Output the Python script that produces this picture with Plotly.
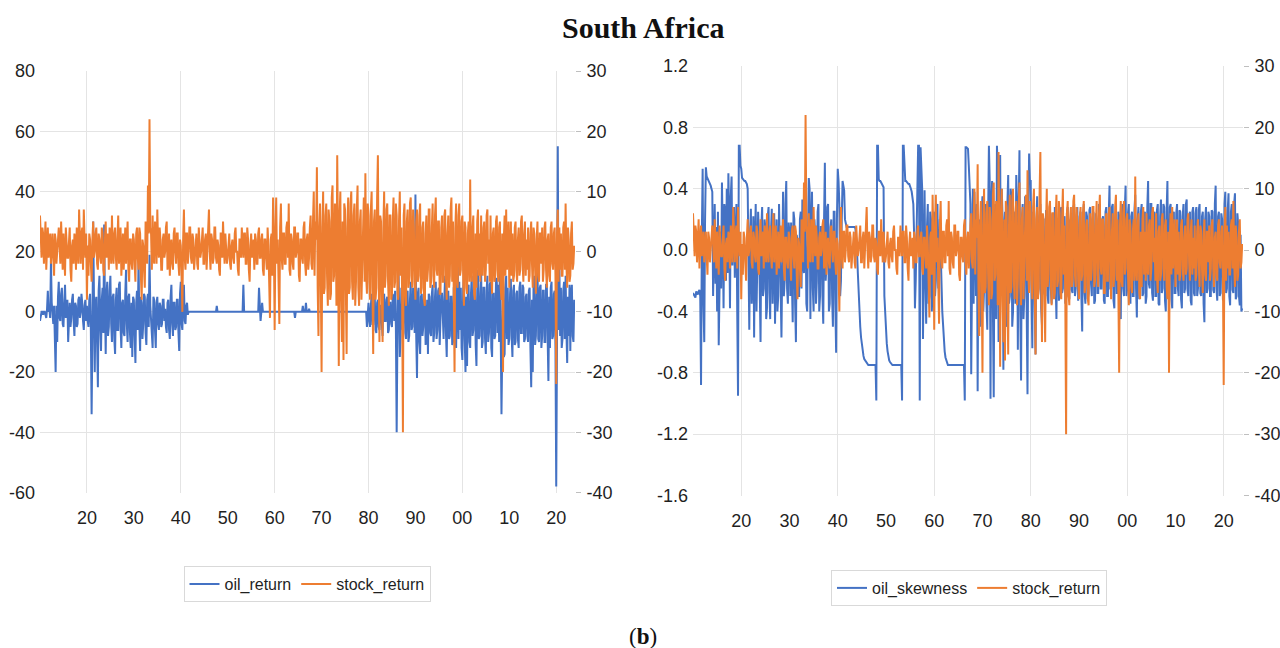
import plotly.graph_objects as go

# ---------------- data (6 readings per year, 1910.0 .. 2023.83) ----------------
start_year = 1910
points_per_year = 6

stock_return = [
    # 1910s
    6, 2, -1, 4, 3, -2, 1, 5, -3, 2, 4, -1, 2, 3, -2, 1, 3, -1, -4, 3, 2, -2, 0, 3, 4, 1, -2, 5, 1, -3,
    3, 0, -4, 4, 2, -1, -1, 3, 4, -3, -5, 1, 2, -2, 3, 2, -3, 4, 1, -2, 7, 2, -2, 3, 4, -3, 7, 2, -1, 3,
    # 1920s
    -8, 1, -4, 3, 2, -2, -5, 2, 5, -1, 0, 3, 4, -2, -3, 3, 2, -1, -2, 4, 3, -3, -4, 2, 5, -1, 0, 3, -3, 4,
    2, -2, 6, 0, -2, 3, 4, -1, -3, 2, 6, -2, 1, 4, -4, 2, 3, -3, 2, 4, -2, 1, 5, -3, -5, 2, 2, -2, -3, 3,
    # 1930s
    2, -2, -5, 3, 4, -1, -3, 4, 3, -4, -8, 2, 1, -3, -6, 5, 4, -2, 11, 3, 22, 4, 3, -3, 6, -1, -2, 5, 4, -2,
    7, 1, -1, 4, 2, -3, -3, 2, 3, -1, 0, 4, 5, -3, -2, 3, -4, 1, 2, -2, -3, 3, 4, 0, -2, 3, 3, -2, -4, 2,
    # 1940s
    1, -3, -10, 2, 7, -1, -3, 3, 3, -2, 0, 4, 4, -1, -2, 3, 2, -3, -1, 2, 3, -2, -3, 4, 2, -1, 0, 3, 4, -2,
    -2, 2, 3, -3, 1, 4, 7, 0, -3, 3, 2, -2, -1, 4, 4, -1, -2, 2, 1, -3, -4, 3, 3, -1, 5, 1, -2, 3, 0, -2,
    # 1950s
    -1, 2, 3, -2, -3, 1, 2, -1, -2, 3, 4, 0, 0, -3, -4, 2, 2, -1, 4, 1, -1, 3, 3, -2, -2, 4, 2, -3, -5, 1,
    3, -1, 0, 2, -3, 3, 2, -2, -2, 3, 4, -1, -1, 2, 3, -3, -4, 2, 2, -1, -3, 4, 1, -5, -11, 2, 3, -4, 9, 1,
    # 1960s
    -13, 3, 9, -2, 2, -5, -12, 4, 8, -1, -3, 3, 3, -2, -2, 4, 5, -1, 8, -3, -4, 3, 2, -2, -3, 4, 4, -1, 0, 3,
    3, -4, -5, 2, 2, -1, -2, 4, 5, -2, -4, 2, 3, -3, -1, 4, 6, -2, -3, 5, 10, -4, 5, 2, 14, -6, -14, 4, 8, -5,
    # 1970s
    -20, 4, 10, -7, -6, 6, 8, -4, -9, 7, 5, -8, -7, 9, 11, -5, -4, 8, 6, -9, 16, 2, -19, 6, 10, -8, -15, 5, -18, 8,
    7, -6, -17, 4, 9, -7, -6, 8, 10, -5, -8, 6, 8, -9, -5, 7, 11, -6, -9, 5, 7, -8, -3, 6, 9, -5, 13, -4, -7, 8,
    # 1980s
    6, -5, -8, 7, 10, -6, -17, 5, 7, -8, -6, 9, 16, -4, -15, 6, 5, -7, -15, 4, 10, -6, -4, 7, 8, -5, -9, 6, 6, -8,
    -7, 5, 9, -6, -5, 8, 6, -7, -8, 5, 10, -4, 4, -8, -30, 6, 8, -7, -9, 5, 7, -6, -5, 8, 9, -4, -6, 7, 4, -5,
    # 1990s
    -8, 5, 7, -5, -4, 6, 8, -7, -6, 4, 5, -8, -9, 3, 6, -5, -3, 7, 7, -6, -5, 4, 8, -4, -6, 6, 9, -3, -4, 5,
    5, -7, -7, 4, 6, -5, -5, 6, 7, -4, -8, 3, 6, -6, -4, 7, 9, -5, 5, -7, -20, 4, 8, -5, -6, 6, 8, -4, -3, 5,
    # 2000s
    6, -4, -9, 5, 4, -6, -7, 3, 5, -5, 12, -3, -5, 4, 6, -7, -8, 3, -6, 5, 7, -4, 3, -5, 6, -3, -4, 4, 5, -5,
    -3, 6, 7, -2, 2, -5, 6, -4, -7, 3, 4, -5, -4, 5, 6, -3, -5, 4, 5, -6, -8, 3, -20, 2, 6, -4, 7, -3, 2, 5,
    # 2010s
    -6, 3, 5, -4, 3, -5, -4, 4, 5, -3, -5, 2, 4, -4, -3, 5, 6, -2, -5, 3, 5, -4, 2, -3, 4, -5, -4, 3, 5, -2,
    -6, 4, 3, -3, -7, 2, 5, -4, -5, 3, 3, -2, 4, -5, -3, 4, 5, -3, -6, 2, 3, -4, -5, 4, 5, -2, -3, 3, 4, -4,
    # 2020s
    -22, 3, 7, -5, 4, -3, 3, -4, -4, 4, 5, -3, 8, -2, -6, 4, 2, -5, -4, 3, 5, -3, -2, 1,
]

oil_return = [
    # 1910s
    -3, -1, 0, 0, -1, 0, 0, -1, -2, 1, 7, 0, 1, -2, 17, 3, 0, -4, 2, -6, -20, 2, -10, 5, 10, -2, -3, 6, 8, -4,
    -5, 3, 9, -2, 1, 4, -10, 2, 3, -5, -2, 4, 6, -3, -8, 3, 2, -5, -4, 4, 5, -2, 0, 6, 3, -3, -6, 2, 4, -3,
    # 1920s
    2, -3, -5, 4, 6, -6, -34, -8, 30, 5, -20, 3, 5, -10, -25, 7, 12, -5, -13, 4, 8, -7, 29, 3, -14, 6, 10, -8, -5, 7,
    12, -4, -10, 5, 6, -9, -14, 4, 8, -6, -6, 9, 10, -5, -12, 3, 4, -7, -8, 6, 14, -4, -10, 5, 6, -7, -12, 3, -15, 5,
    # 1930s
    4, -8, -17, 3, 7, -6, 18, -4, -13, 5, 3, -9, -4, 6, 5, -7, -11, 4, 6, -5, 19, 2, -3, -8, -12, 5, 4, -6, -12, 3,
    5, -4, -6, 3, 2, -5, -4, 4, 4, -3, 1, -5, -7, 3, 4, -6, -9, 5, 9, -4, -8, 3, 3, -6, -5, 4, 4, -7, -13, 6,
    # 1940s
    10, -4, -6, 5, 9, -3, -4, 2, 3, -1, 0, 0, 0, 0, 0, 0, 0, 0, 0, 0, 0, 0, 0, 0, 0, 0, 0, 0, 0, 0,
    0, 0, 0, 0, 0, 0, 0, 0, 0, 0, 0, 0, 0, 0, 0, 0, 2, 0, 0, 0, 0, 0, 0, 0, 0, 0, 0, 0, 0, 0,
    # 1950s
    0, 0, 0, 0, 0, 0, 0, 0, 0, 0, 0, 0, 0, 0, 0, 0, 0, 0, 0, 0, 9, 0, 0, 0, 0, 0, 0, 0, 0, 0,
    0, 0, 0, 0, 0, 0, 0, 0, 0, 0, 8, 0, -3, 0, 3, 0, 0, 0, 0, 0, 0, 0, 0, 0, 0, 0, 0, 0, 0, 0,
    # 1960s
    0, 0, 0, 0, 0, 0, 0, 0, 0, 0, 0, 0, 0, 0, 0, 0, 0, 0, 0, 0, 0, 0, 0, 0, 0, 0, -2, 0, 0, 0,
    0, 0, 0, 0, 0, 0, 2, 0, 0, 0, 3, 0, 0, 0, 1, 0, 0, 0, 0, 0, 0, 0, 0, 0, 0, 0, 0, 0, 0, 0,
    # 1970s
    0, 0, 0, 0, 0, 0, 0, 0, 0, 0, 0, 0, 0, 0, 0, 0, 0, 0, 0, 0, 0, 0, 0, 0, 0, 0, 0, 0, 0, 0,
    0, 0, 0, 0, 0, 0, 0, 0, 0, 0, 0, 0, 0, 0, 0, 0, 0, 0, 0, 0, 0, 0, 0, 0, 0, 0, 0, 0, -5, 2,
    # 1980s
    3, -3, -5, 2, 6, -4, -4, 5, 5, -6, -7, 3, 4, -5, -6, 2, 2, -4, -8, 5, 6, -3, -3, 4, 5, -7, -6, 3, 3, -4,
    -5, 6, 4, -3, 7, -5, -40, -6, 21, 4, -15, -8, 8, -5, -6, 9, 5, -7, -9, 6, 7, -10, -8, 4, 10, -6, -5, 8, 6, -7,
    # 1990s
    39, -8, -22, 6, 8, -10, -14, 5, 6, -8, -5, 7, 7, -11, -9, 4, -14, 6, 5, -7, -8, 6, 9, -10, -7, 5, 10, -9, -6, 7,
    8, -11, -5, 6, 6, -8, -9, 5, 12, -7, -15, 6, 7, -9, -8, 5, 5, -11, -10, 8, 9, -6, -12, 4, 21, -9, 10, -6, 8, -12,
    # 2000s
    -16, 7, 12, -9, -20, 5, -18, 8, 9, -10, -12, 6, 12, -8, -6, 10, 9, -11, -18, 7, 14, -9, -8, 6, 14, -12, -10, 8, 8, -9,
    -14, 7, 12, -10, -7, 9, 10, -12, -15, 6, 6, -9, -8, 11, 11, -7, 9, -10, 18, -6, -34, -12, 10, -15, -14, 8, 12, -9, 8, -11,
    # 2010s
    -9, 6, 11, -8, -15, 7, 9, -11, -10, 6, 7, -9, -12, 8, 10, -7, -7, 9, 8, -10, -9, 5, 6, -8, -10, 7, 8, -12, -25, 4,
    -20, 9, 12, -11, -8, 6, 17, -9, -10, 8, 9, -12, -8, 7, 7, -10, -10, 9, 9, -8, -23, 5, -12, 8, 10, -9, -8, 6, 7, -11,
    # 2020s
    -58, -10, 55, -6, 16, -8, 8, -12, -9, 7, 10, -9, 12, -6, -17, 5, -8, 9, -13, 6, 9, -8, -10, 4,
]

oil_skewness = [
    # 1910s
    -0.28, -0.29, -0.30, -0.31, -0.27, -0.28, -0.29, -0.27, -0.26, -0.30, -0.88, 0.10, 0.53, -0.35, -0.60,
    0.20, 0.54, 0.48, 0.47, 0.46, 0.45, 0.44, 0.42, 0.40, 0.38, -0.30, 0.05, 0.30, -0.22, 0.15,
    -0.40, 0.25, -0.62, 0.05, 0.12, -0.25, 0.44, 0.10, -0.38, 0.30, 0.25, -0.20, 0.40, -0.15, 0.50,
    0.20, -0.38, 0.35, 0.48, -0.10, 0.15, 0.28, -0.18, 0.25, 0.30, -0.40, -0.95, 0.68, 0.68, 0.55,
    # 1920s
    0.53, 0.47, 0.46, 0.46, 0.45, 0.45, 0.44, 0.43, 0.40, -0.30, -0.52, 0.10, 0.27, -0.35, -0.20,
    0.22, -0.57, 0.05, 0.30, -0.40, -0.15, 0.25, 0.10, -0.35, -0.60, 0.15, 0.28, -0.30, -0.25, 0.20,
    0.15, -0.45, -0.38, 0.22, 0.28, -0.28, -0.45, 0.12, 0.27, -0.35, -0.10, 0.24, -0.48, 0.05, 0.20,
    -0.40, -0.30, 0.30, 0.10, -0.25, -0.57, 0.20, 0.38, -0.30, -0.20, 0.30, 0.45, -0.25, -0.35, 0.18,
    # 1930s
    0.10, -0.30, 0.18, -0.20, -0.47, 0.25, 0.20, -0.35, -0.60, 0.10, 0.05, -0.30, -0.30, 0.20, 0.25,
    -0.25, 0.33, -0.10, -0.15, 0.28, 0.20, -0.35, -0.40, 0.10, 0.47, 0.40, -0.45, 0.15, 0.38, -0.25,
    -0.40, 0.20, 0.10, -0.35, -0.20, 0.25, 0.30, -0.40, -0.30, 0.15, 0.15, -0.30, -0.48, 0.20, 0.57,
    -0.20, -0.10, 0.28, 0.30, -0.40, -0.35, 0.15, 0.20, -0.30, -0.50, 0.25, 0.25, -0.35, -0.67, 0.20,
    # 1940s
    0.53, 0.45, 0.30, -0.30, -0.20, 0.20, 0.45, 0.42, 0.39, 0.20, 0.16, 0.15, 0.15, 0.15, 0.15,
    0.15, 0.15, 0.15, 0.15, 0.15, 0.15, 0.15, 0.14, 0.08, 0.00, -0.15, -0.30, -0.41, -0.50, -0.57,
    -0.62, -0.66, -0.69, -0.71, -0.72, -0.73, -0.74, -0.74, -0.75, -0.75, -0.75, -0.75, -0.75, -0.75, -0.75,
    -0.75, -0.75, -0.75, -0.98, 0.68, 0.68, 0.46, 0.45, 0.45, 0.44, 0.43, 0.42, 0.41, -0.30, -0.45,
    # 1950s
    -0.55, -0.61, -0.66, -0.70, -0.72, -0.73, -0.74, -0.75, -0.75, -0.75, -0.75, -0.75, -0.75, -0.75, -0.75,
    -0.75, -0.75, -0.75, -0.75, -0.75, -0.98, 0.68, 0.68, 0.47, 0.45, 0.45, 0.44, 0.44, 0.43, 0.43,
    0.42, 0.40, 0.38, 0.35, 0.30, 0.10, -0.38, -0.20, 0.20, 0.45, 0.68, 0.68, -0.98, 0.67, 0.45,
    0.40, -0.58, 0.10, 0.39, -0.20, -0.48, 0.15, 0.30, -0.35, -0.30, 0.25, 0.20, -0.40, -0.25, 0.20,
    # 1960s
    0.25, -0.30, -0.20, 0.28, 0.30, -0.25, -0.15, 0.20, 0.05, -0.20, -0.40, -0.52, -0.60, -0.66, -0.70,
    -0.72, -0.74, -0.75, -0.75, -0.75, -0.75, -0.75, -0.75, -0.75, -0.75, -0.75, -0.75, -0.75, -0.75, -0.75,
    -0.75, -0.75, -0.75, -0.75, -0.75, -0.75, -0.75, -0.75, -0.98, 0.67, 0.67, 0.66, 0.66, 0.55, 0.45,
    0.30, -0.81, 0.20, 0.40, -0.35, 0.38, 0.10, -0.30, 0.30, -0.92, 0.15, 0.20, -0.50, -0.40, 0.25,
    # 1970s
    0.35, -0.40, -0.25, 0.25, 0.30, -0.35, -0.52, 0.20, 0.68, 0.45, -0.97, 0.30, 0.45, -0.40, -0.96,
    0.20, 0.30, -0.45, 0.68, 0.50, -0.60, 0.35, 0.62, -0.30, 0.40, 0.20, -0.78, 0.10, 0.25, -0.45,
    -0.50, 0.30, 0.49, -0.35, -0.30, 0.40, 0.35, -0.50, -0.40, 0.25, 0.20, -0.35, 0.49, 0.30, -0.65,
    0.25, 0.65, -0.40, -0.85, 0.20, 0.30, -0.45, -0.30, 0.35, 0.33, -0.40, -0.94, 0.20, 0.63, 0.45,
    # 1980s
    0.45, -0.30, -0.64, 0.25, 0.20, -0.35, -0.68, 0.15, 0.35, -0.30, -0.25, 0.22, 0.30, -0.38, -0.49,
    0.20, 0.20, -0.28, -0.30, 0.26, 0.25, -0.30, -0.35, 0.18, 0.30, -0.25, -0.35, 0.24, 0.15, -0.30,
    0.28, -0.22, -0.45, 0.20, 0.20, -0.33, -0.30, 0.25, 0.28, -0.28, -0.25, 0.20, 0.22, -0.35, -0.30,
    0.24, 0.28, -0.30, -0.32, 0.20, 0.18, -0.26, -0.28, 0.28, 0.30, -0.30, -0.25, 0.22, 0.28, -0.33,
    # 1990s
    -0.20, 0.22, 0.25, -0.30, -0.53, 0.20, 0.30, -0.28, -0.35, 0.25, 0.22, -0.32, -0.28, 0.26, 0.28,
    -0.22, -0.30, 0.20, 0.25, -0.35, -0.33, 0.24, 0.20, -0.28, -0.28, 0.30, 0.28, -0.25, -0.25, 0.20,
    0.22, -0.33, -0.35, 0.25, 0.28, -0.30, -0.30, 0.22, 0.42, -0.25, -0.25, 0.28, 0.30, -0.33, -0.38,
    0.20, 0.25, -0.28, -0.28, 0.25, 0.22, -0.30, -0.45, 0.20, 0.30, -0.25, -0.30, 0.26, 0.42, -0.30,
    # 2000s
    -0.25, 0.24, 0.30, -0.28, -0.35, 0.22, 0.25, -0.30, -0.30, 0.26, 0.36, -0.25, -0.44, 0.20, 0.28,
    -0.32, -0.25, 0.25, 0.30, -0.30, -0.28, 0.22, 0.25, -0.35, -0.30, 0.28, 0.45, -0.22, -0.25, 0.30,
    0.30, -0.28, -0.33, 0.20, 0.25, -0.30, -0.30, 0.26, 0.30, -0.35, -0.36, 0.22, 0.33, -0.28, -0.25,
    0.30, 0.28, -0.33, -0.40, 0.25, 0.45, -0.25, -0.30, 0.28, 0.30, -0.32, -0.38, 0.22, 0.25, -0.28,
    # 2010s
    -0.28, 0.24, 0.30, -0.25, -0.30, 0.26, 0.25, -0.32, -0.38, 0.22, 0.30, -0.28, -0.25, 0.30, 0.33,
    -0.26, -0.30, 0.22, 0.25, -0.33, -0.36, 0.25, 0.28, -0.28, -0.30, 0.24, 0.28, -0.30, -0.25, 0.26,
    0.30, -0.28, -0.30, 0.22, 0.25, -0.35, -0.47, 0.20, 0.28, -0.28, -0.25, 0.25, 0.22, -0.30, -0.30,
    0.26, 0.25, -0.26, -0.28, 0.30, 0.42, -0.25, -0.33, 0.22, 0.25, -0.30, -0.28, 0.24, 0.20, -0.32,
    # 2020s
    -0.33, 0.30, 0.38, -0.28, -0.25, 0.26, 0.37, -0.30, -0.36, 0.25, 0.30, -0.26,
    -0.28, 0.30, 0.37, -0.32, -0.30, 0.24, 0.17, -0.30, -0.36, 0.10, -0.40, -0.38,
]

x_tick_years = [1920, 1930, 1940, 1950, 1960, 1970, 1980, 1990, 2000, 2010, 2020]
x_tick_labels = ["20", "30", "40", "50", "60", "70", "80", "90", "00", "10", "20"]
x_grid_years = [1920, 1940, 1960, 1980, 2000, 2020]

left_ret_ticks = [-60, -40, -20, 0, 20, 40, 60, 80]
right_ret_ticks = [-40, -30, -20, -10, 0, 10, 20, 30]
skew_ticks = [-1.6, -1.2, -0.8, -0.4, 0.0, 0.4, 0.8, 1.2]
skew_labels = ["-1.6", "-1.2", "-0.8", "-0.4", "0.0", "0.4", "0.8", "1.2"]

for name, s in [("stock", stock_return), ("oil", oil_return), ("skew", oil_skewness)]:
    if len(s) != len(stock_return):
        raise ValueError(f"{name} length {len(s)} != {len(stock_return)}")

years = [start_year + i / points_per_year for i in range(len(stock_return))]

BLUE = "#4472C4"
ORANGE = "#ED7D31"
GRID = "#E4E4E4"
TXT = "#1F1F1F"
SANS = "Liberation Sans Narrow, Arial Narrow, Liberation Sans, sans-serif"
TICKFONT = dict(family=SANS, size=18, color=TXT)
LEGFONT = dict(family=SANS, size=16, color=TXT)
LW = 2

fig = go.Figure()
fig.add_trace(go.Scatter(x=years, y=oil_return, name="oil_return", mode="lines",
                         line=dict(color=BLUE, width=LW), xaxis="x", yaxis="y", legend="legend"))
fig.add_trace(go.Scatter(x=years, y=stock_return, name="stock_return", mode="lines",
                         line=dict(color=ORANGE, width=LW), xaxis="x", yaxis="y2", legend="legend"))
fig.add_trace(go.Scatter(x=years, y=oil_skewness, name="oil_skewness", mode="lines",
                         line=dict(color=BLUE, width=LW), xaxis="x2", yaxis="y3", legend="legend2"))
fig.add_trace(go.Scatter(x=years, y=stock_return, name="stock_return", mode="lines",
                         line=dict(color=ORANGE, width=LW), xaxis="x2", yaxis="y4", legend="legend2"))


def xax(domain, anchor):
    return dict(domain=domain, anchor=anchor, range=[1910, 2024], tickmode="array",
                tickvals=x_tick_years, ticktext=x_tick_labels, showgrid=False, zeroline=False,
                showline=False, ticks="", tickfont=TICKFONT, ticklabelstandoff=12, automargin=False,
                minor=dict(tickmode="array", tickvals=x_grid_years, showgrid=True,
                           gridcolor=GRID, gridwidth=1, ticks=""))


def yax_left(domain, anchor, rng, vals, texts, gridvals):
    return dict(domain=domain, anchor=anchor, range=rng, tickmode="array", tickvals=vals,
                ticktext=texts, showgrid=False, zeroline=False, showline=False, ticks="",
                tickfont=TICKFONT, ticklabelstandoff=4, automargin=False,
                minor=dict(tickmode="array", tickvals=gridvals, showgrid=True,
                           gridcolor=GRID, gridwidth=1, ticks=""))


def yax_right(overlay, anchor, rng, vals):
    return dict(overlaying=overlay, anchor=anchor, side="right", range=rng, tickmode="array",
                tickvals=vals, ticktext=[str(v) for v in vals], showgrid=False, zeroline=False,
                showline=False, ticks="outside", ticklen=5, tickcolor="#BFBFBF", tickwidth=1,
                tickfont=TICKFONT, ticklabelstandoff=2, automargin=False)


left_x_dom = [40 / 1280, 575 / 1280]
right_x_dom = [693 / 1280, 1243 / 1280]
left_y_dom = [1 - 492.5 / 648, 1 - 71 / 648]
right_y_dom = [1 - 495.5 / 648, 1 - 66 / 648]

fig.update_layout(
    width=1280, height=648, margin=dict(l=0, r=0, t=0, b=0, autoexpand=False),
    paper_bgcolor="white", plot_bgcolor="white", showlegend=True,
    xaxis=xax(left_x_dom, "y"),
    yaxis=yax_left(left_y_dom, "x", [-60, 80], left_ret_ticks, [str(v) for v in left_ret_ticks],
                   [-40, -20, 0, 20, 40, 60]),
    yaxis2=yax_right("y", "x", [-40, 30], right_ret_ticks),
    xaxis2=xax(right_x_dom, "y3"),
    yaxis3=yax_left(right_y_dom, "x2", [-1.6, 1.2], skew_ticks, skew_labels,
                    [-1.2, -0.8, -0.4, 0.0, 0.4, 0.8]),
    yaxis4=yax_right("y3", "x2", [-40, 30], right_ret_ticks),
    legend=dict(orientation="h", x=307 / 1280, xanchor="center", y=1 - 584 / 648, yanchor="middle",
                bordercolor="#D9D9D9", borderwidth=1, bgcolor="white", font=LEGFONT,
                itemwidth=30, traceorder="normal"),
    legend2=dict(orientation="h", x=969 / 1280, xanchor="center", y=1 - 588 / 648, yanchor="middle",
                 bordercolor="#D9D9D9", borderwidth=1, bgcolor="white", font=LEGFONT,
                 itemwidth=30, traceorder="normal"),
    annotations=[
        dict(text="<b>South Africa</b>", x=643 / 1280, y=1 - 28 / 648, xref="paper", yref="paper",
             xanchor="center", yanchor="middle", showarrow=False,
             font=dict(family="Liberation Serif, DejaVu Serif, serif", size=30, color="#111111")),
        dict(text="(<b>b</b>)", x=643 / 1280, y=1 - 636 / 648, xref="paper", yref="paper",
             xanchor="center", yanchor="middle", showarrow=False,
             font=dict(family="Liberation Serif, DejaVu Serif, serif", size=23, color="#111111")),
    ],
)

fig.write_html("out.html")
